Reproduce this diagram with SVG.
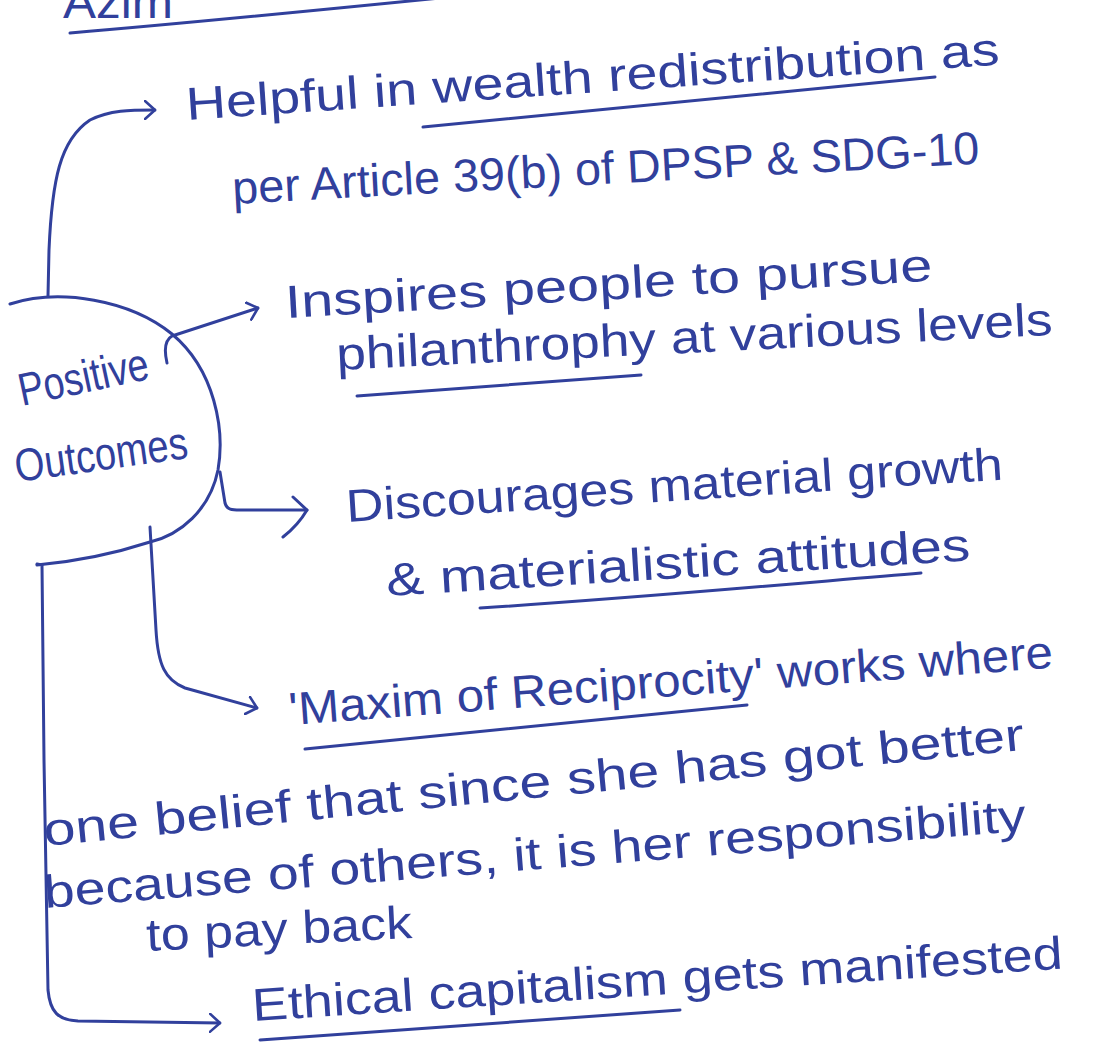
<svg xmlns="http://www.w3.org/2000/svg" width="1108" height="1043" viewBox="0 0 1108 1043">
<defs>
<style>
.t{font-family:"Liberation Sans",Arial,sans-serif;font-size:46px;fill:#31409c;}
.s{fill:none;stroke:#31409c;stroke-width:3;stroke-linecap:round;stroke-linejoin:round;}
</style>
<marker id="ah" viewBox="0 0 12 20" refX="11" refY="10" markerWidth="12" markerHeight="20" markerUnits="userSpaceOnUse" orient="auto">
<path d="M1,1 L11,10 L1,19" fill="none" stroke="#31409c" stroke-width="2.6" stroke-linecap="round" stroke-linejoin="round"/>
</marker>
</defs>
<rect width="1108" height="1043" fill="#ffffff"/>
<g id="title">
<text class="t" x="63" y="18" textLength="110" lengthAdjust="spacingAndGlyphs">Azim</text>
<path class="s" d="M70,33 C200,22 320,10 440,-2"/>
</g>
<g id="center">
<path class="s" d="M10,304 C60,288 130,300 172,334 C215,370 225,430 218,470 C210,510 180,535 150,542 C110,555 70,562 37,565"/>
<text class="t" x="22" y="406" transform="rotate(-12 22 406)" textLength="132" lengthAdjust="spacingAndGlyphs">Positive</text>
<text class="t" x="17" y="482" transform="rotate(-8 17 482)" textLength="174" lengthAdjust="spacingAndGlyphs">Outcomes</text>
</g>
<g id="n1">
<text class="t" x="187" y="120" transform="rotate(-3.9 187 120)" textLength="815" lengthAdjust="spacingAndGlyphs">Helpful in wealth redistribution as</text>
<path class="s" d="M423,127 L935,77"/>
<text class="t" x="233" y="204" transform="rotate(-3.1 233 204)" textLength="748" lengthAdjust="spacingAndGlyphs">per Article 39(b) of DPSP &amp; SDG-10</text>
</g>
<g id="n2">
<text class="t" x="286" y="318" transform="rotate(-3.3 286 318)" textLength="648" lengthAdjust="spacingAndGlyphs">Inspires people to pursue</text>
<text class="t" x="337" y="370" transform="rotate(-2.8 337 370)" textLength="717" lengthAdjust="spacingAndGlyphs">philanthrophy at various levels</text>
<path class="s" d="M357,396 L641,375"/>
</g>
<g id="n3">
<text class="t" x="347" y="522" transform="rotate(-3.7 347 522)" textLength="658" lengthAdjust="spacingAndGlyphs">Discourages material growth</text>
<text class="t" x="387" y="596" transform="rotate(-3.5 387 596)" textLength="585" lengthAdjust="spacingAndGlyphs">&amp; materialistic attitudes</text>
<path class="s" d="M480,608 C650,597 800,583 921,573"/>
</g>
<g id="n4">
<text class="t" x="290" y="725" transform="rotate(-4.3 290 725)" textLength="766" lengthAdjust="spacingAndGlyphs">'Maxim of Reciprocity' works where</text>
<path class="s" d="M305,749 L747,705"/>
<text class="t" x="45" y="846" transform="rotate(-5.6 45 846)" textLength="985" lengthAdjust="spacingAndGlyphs">one belief that since she has got better</text>
<text class="t" x="45" y="908" transform="rotate(-4.5 45 908)" textLength="985" lengthAdjust="spacingAndGlyphs">because of others, it is her responsibility</text>
<text class="t" x="147" y="951" transform="rotate(-2.8 147 951)" textLength="266" lengthAdjust="spacingAndGlyphs">to pay back</text>
</g>
<g id="n5">
<text class="t" x="253" y="1021" transform="rotate(-3.7 253 1021)" textLength="812" lengthAdjust="spacingAndGlyphs">Ethical capitalism gets manifested</text>
<path class="s" d="M260,1040 L680,1010"/>
</g>
<g id="connectors">
<path class="s" marker-end="url(#ah)" d="M48,296 L49,250 C52,180 60,140 90,120 C110,110 130,110 155,110"/>
<path class="s" marker-end="url(#ah)" d="M167,363 C164,350 165,340 172,336 L258,308"/>
<path class="s" d="M220,472 L225,503 C227,510 232,510 240,510 L307,510"/>
<path class="s" d="M293,497 L307,510 C300,522 292,530 283,537"/>
<path class="s" marker-end="url(#ah)" d="M150,527 L156,630 C158,665 165,680 185,688 L257,708"/>
<path class="s" marker-end="url(#ah)" d="M37,564 L42,565 L44,760 L48,990 C50,1012 58,1020 78,1021 L220,1023"/>
</g>
</svg>
